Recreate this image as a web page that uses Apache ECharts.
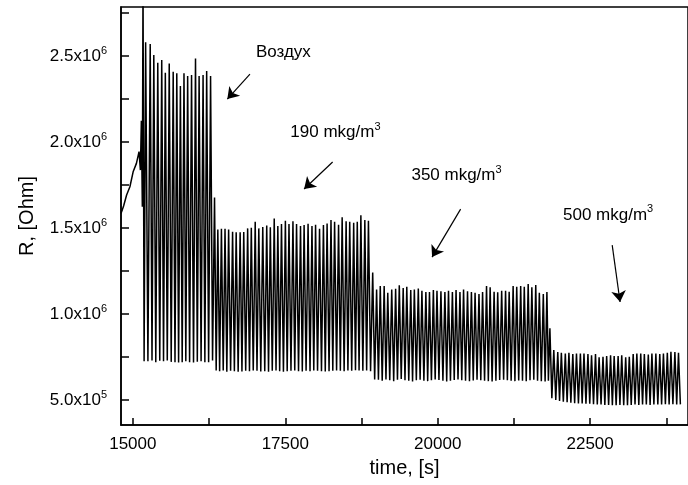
<!DOCTYPE html>
<html>
<head>
<meta charset="utf-8">
<script src="https://cdn.jsdelivr.net/npm/echarts@6/dist/echarts.min.js"></script>
<style>
  html, body { margin: 0; padding: 0; background: #fff; }
  #chart { width: 688px; height: 485px; }
</style>
</head>
<body>
<div id="chart"></div>
<script>
// Resistance of the sensor vs time. Resistances are in MOhm, times in seconds.

// Drift before the first heating cycle, ending with the spike off scale
const rampTime = [14806, 14850, 14898, 14925, 14952, 15005, 15030, 15059, 15102, 15124, 15140, 15156, 15167, 15185];
const rampR    = [1.585, 1.630, 1.692, 1.700, 1.740, 1.827, 1.820, 1.876, 1.944, 1.837, 2.124, 1.624, 2.950, 0.725];

// Air: peak time, peak R and the minimum that follows each peak
const airTime   = [15210, 15285, 15344, 15409, 15474, 15533, 15597, 15662, 15721, 15780,
                   15839, 15899, 15963, 16028, 16087, 16152, 16211, 16275];
const airPeak   = [2.580, 2.570, 2.506, 2.461, 2.477, 2.403, 2.457, 2.409, 2.400, 2.326,
                   2.400, 2.384, 2.390, 2.486, 2.384, 2.390, 2.413, 2.384];
const airTrough = [0.725, 0.730, 0.720, 0.728, 0.725, 0.730, 0.722, 0.720, 0.718, 0.720,
                   0.725, 0.720, 0.718, 0.722, 0.725, 0.720, 0.720, 0.730];

// 190 mkg/m3
const c190Time   = [16340,
                    16394, 16453, 16512, 16571, 16636, 16695, 16760, 16819, 16883, 16943,
                    17007, 17066, 17131, 17196, 17255, 17319, 17378, 17438, 17502, 17561,
                    17626, 17685, 17750, 17809, 17874, 17938, 17997, 18062, 18126, 18186,
                    18250, 18309, 18374, 18433, 18498, 18557, 18622, 18681, 18740, 18805,
                    18864];
const c190Peak   = [1.678,
                    1.492, 1.496, 1.496, 1.492, 1.479, 1.475, 1.475, 1.477, 1.498, 1.502,
                    1.537, 1.498, 1.506, 1.514, 1.504, 1.556, 1.512, 1.523, 1.543, 1.523,
                    1.539, 1.523, 1.512, 1.517, 1.525, 1.512, 1.519, 1.496, 1.517, 1.527,
                    1.546, 1.537, 1.519, 1.562, 1.539, 1.537, 1.531, 1.537, 1.574, 1.546,
                    1.543];
const c190Trough = [0.672,
                    0.668, 0.672, 0.665, 0.670, 0.668, 0.664, 0.666, 0.670, 0.668, 0.672,
                    0.670, 0.666, 0.668, 0.665, 0.670, 0.672, 0.668, 0.665, 0.668, 0.670,
                    0.672, 0.668, 0.666, 0.670, 0.668, 0.672, 0.670, 0.668, 0.666, 0.668,
                    0.670, 0.672, 0.670, 0.668, 0.672, 0.670, 0.674, 0.672, 0.670, 0.672,
                    0.668];

// 350 mkg/m3
const c350Time   = [18934,
                    18998, 19058, 19122, 19181, 19246, 19310, 19370, 19434, 19493, 19558,
                    19617, 19682, 19741, 19806, 19865, 19929, 19988, 20053, 20118, 20177,
                    20241, 20301, 20365, 20424, 20489, 20553, 20613, 20677, 20736, 20801,
                    20860, 20925, 20984, 21049, 21113, 21172, 21237, 21296, 21361, 21420,
                    21484, 21544, 21608, 21667, 21732, 21791];
const c350Peak   = [1.241,
                    1.143, 1.163, 1.163, 1.124, 1.143, 1.147, 1.167, 1.151, 1.159, 1.140,
                    1.143, 1.149, 1.136, 1.128, 1.128, 1.140, 1.136, 1.132, 1.128, 1.136,
                    1.128, 1.140, 1.128, 1.143, 1.132, 1.128, 1.124, 1.116, 1.128, 1.163,
                    1.155, 1.130, 1.126, 1.136, 1.136, 1.130, 1.163, 1.159, 1.163, 1.159,
                    1.174, 1.155, 1.169, 1.124, 1.116, 1.128];
const c350Trough = [0.620,
                    0.618, 0.612, 0.620, 0.615, 0.610, 0.618, 0.622, 0.615, 0.612, 0.608,
                    0.615, 0.618, 0.612, 0.610, 0.615, 0.620, 0.616, 0.612, 0.608, 0.612,
                    0.616, 0.620, 0.615, 0.612, 0.610, 0.614, 0.618, 0.615, 0.612, 0.610,
                    0.608, 0.612, 0.616, 0.618, 0.615, 0.612, 0.610, 0.614, 0.612, 0.610,
                    0.615, 0.618, 0.612, 0.610, 0.608, 0.612];

// 500 mkg/m3
const c500Time   = [21840,
                    21904, 21969, 22028, 22093, 22152, 22216, 22276, 22340, 22399, 22464,
                    22523, 22588, 22647, 22711, 22771, 22835, 22894, 22959, 23018, 23083,
                    23142, 23206, 23266, 23330, 23389, 23454, 23513, 23578, 23642, 23702,
                    23766, 23825, 23890, 23949];
const c500Peak   = [0.917,
                    0.791, 0.779, 0.775, 0.771, 0.775, 0.767, 0.771, 0.771, 0.771, 0.767,
                    0.760, 0.767, 0.748, 0.752, 0.756, 0.760, 0.756, 0.756, 0.760, 0.748,
                    0.752, 0.767, 0.771, 0.771, 0.767, 0.764, 0.771, 0.771, 0.767, 0.771,
                    0.775, 0.781, 0.779, 0.775];
const c500Trough = [0.510,
                    0.500, 0.495, 0.490, 0.488, 0.485, 0.482, 0.480, 0.480, 0.478, 0.478,
                    0.476, 0.475, 0.474, 0.472, 0.472, 0.470, 0.470, 0.472, 0.470, 0.470,
                    0.472, 0.474, 0.472, 0.475, 0.474, 0.472, 0.474, 0.475, 0.474, 0.476,
                    0.475, 0.476, 0.474, 0.475];

// Axis ticks
const xTicks  = [15000, 16250, 17500, 18750, 20000, 21250, 22500, 23750];
const xLabels = [15000, 17500, 20000, 22500];
const yTicks  = [500000, 750000, 1000000, 1250000, 1500000, 1750000, 2000000, 2250000, 2500000, 2750000];
const yLabels = [500000, 1000000, 1500000, 2000000, 2500000];

// Annotations: text anchor [t, R] and arrow [tail, head] in data units (R in MOhm)
const notes = [
  { text: '{a|Воздух}',                at: [17018, 2.523], arrow: [[16921, 2.395], [16550, 2.250]] },
  { text: '{a|190 mkg/m}{s|3}',        at: [17583, 2.058], arrow: [[18277, 1.884], [17809, 1.727]] },
  { text: '{a|350 mkg/m}{s|3}',        at: [19569, 1.808], arrow: [[20376, 1.610], [19908, 1.331]] },
  { text: '{a|500 mkg/m}{s|3}',        at: [22055, 1.576], arrow: [[22862, 1.401], [22991, 1.070]] }
];

const FONT = '"Liberation Sans", Arial, sans-serif';
const MEGA = 1e6;

// Build the polyline: ramp, then peak / following minimum for each cycle
const points = rampTime.map((t, i) => [t, rampR[i] * MEGA]);
const cycT = [].concat(airTime, c190Time, c350Time, c500Time);
const cycP = [].concat(airPeak, c190Peak, c350Peak, c500Peak);
const cycV = [].concat(airTrough, c190Trough, c350Trough, c500Trough);
cycT.forEach((t, i) => {
  points.push([t, cycP[i] * MEGA]);
  const next = i + 1 < cycT.length ? cycT[i + 1] : t + 62;
  points.push([(t + next) / 2, cycV[i] * MEGA]);
});

const supRich = {
  b: { fontFamily: FONT, fontSize: 17, color: '#000', lineHeight: 22 },
  s: { fontFamily: FONT, fontSize: 11, color: '#000', lineHeight: 12, verticalAlign: 'top' }
};

function sciLabel(v) {
  const e = Math.floor(Math.log10(v) + 1e-9);
  const m = (v / Math.pow(10, e)).toFixed(1);
  return '{b|' + m + 'x10}{s|' + e + '}';
}

const chart = echarts.init(document.getElementById('chart'), null, { renderer: 'canvas' });

const option = {
  animation: false,
  backgroundColor: '#fff',
  grid: {
    left: 121, top: 7, width: 576, height: 418,
    show: true, borderColor: '#000', borderWidth: 1.5, backgroundColor: 'transparent'
  },
  xAxis: {
    type: 'value',
    min: 14806, max: 24105,
    name: 'time, [s]',
    nameLocation: 'middle',
    nameGap: 33,
    nameTextStyle: { fontFamily: FONT, fontSize: 20, color: '#000' },
    axisLine: { show: true, onZero: false, lineStyle: { color: '#000', width: 1.5 } },
    axisTick: { show: true, inside: true, length: 7, customValues: xTicks, lineStyle: { color: '#000', width: 1.5 } },
    axisLabel: {
      customValues: xLabels,
      formatter: v => String(v),
      fontFamily: FONT, fontSize: 17, color: '#000', margin: 11
    },
    splitLine: { show: false }
  },
  yAxis: {
    type: 'value',
    min: 355000, max: 2785000,
    name: 'R, [Ohm]',
    nameLocation: 'middle',
    nameRotate: 90,
    nameGap: 84,
    nameTextStyle: { fontFamily: FONT, fontSize: 20, color: '#000' },
    axisLine: { show: true, onZero: false, lineStyle: { color: '#000', width: 1.5 } },
    axisTick: { show: true, inside: true, length: 8, customValues: yTicks, lineStyle: { color: '#000', width: 1.5 } },
    axisLabel: { customValues: yLabels, formatter: sciLabel, rich: supRich, margin: 14 },
    splitLine: { show: false }
  },
  series: [
    {
      type: 'line',
      data: points,
      showSymbol: false,
      symbol: 'none',
      clip: true,
      lineStyle: { color: '#000', width: 1.5 },
      silent: true,
      markLine: {
        silent: true,
        symbol: ['none', 'arrow'],
        symbolSize: 11,
        label: { show: false },
        lineStyle: { color: '#000', width: 1.2, type: 'solid' },
        data: notes.map(n => [
          { coord: [n.arrow[0][0], n.arrow[0][1] * MEGA] },
          { coord: [n.arrow[1][0], n.arrow[1][1] * MEGA] }
        ])
      }
    }
  ]
};

chart.setOption(option);

// Annotation texts placed at their data anchors
const noteRich = {
  a: { fontFamily: FONT, fontSize: 17, fill: '#000', lineHeight: 22 },
  s: { fontFamily: FONT, fontSize: 11, fill: '#000', lineHeight: 12, verticalAlign: 'top' }
};
chart.setOption({
  graphic: notes.map(n => {
    const p = chart.convertToPixel({ gridIndex: 0 }, [n.at[0], n.at[1] * MEGA]);
    return {
      type: 'text',
      x: p[0], y: p[1],
      silent: true,
      style: { text: n.text, rich: noteRich, align: 'left', verticalAlign: 'middle', fill: '#000' }
    };
  })
});
</script>
</body>
</html>
